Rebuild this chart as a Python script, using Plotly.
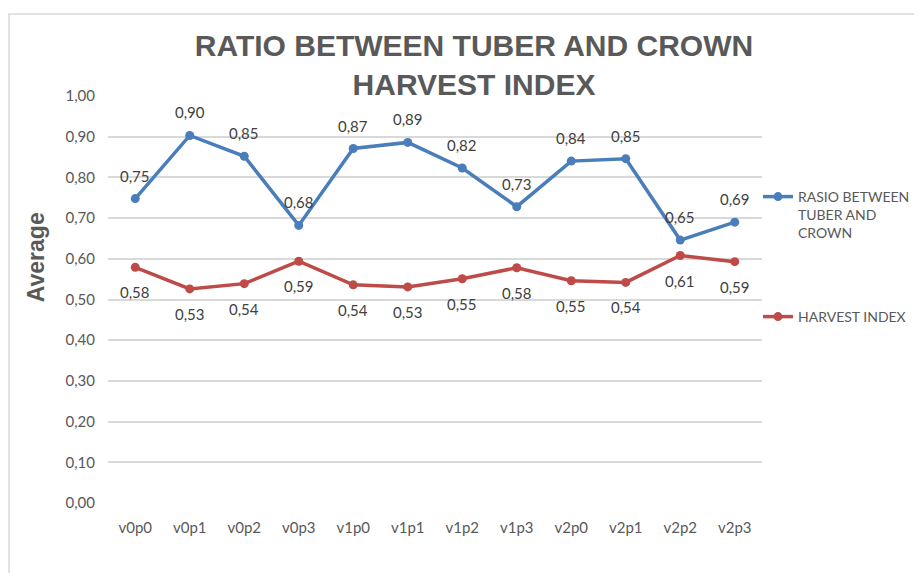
import plotly.graph_objects as go

categories = ["v0p0", "v0p1", "v0p2", "v0p3", "v1p0", "v1p1",
              "v1p2", "v1p3", "v2p0", "v2p1", "v2p2", "v2p3"]
ratio_values = [0.748, 0.903, 0.852, 0.682, 0.871, 0.886,
                0.823, 0.728, 0.840, 0.846, 0.646, 0.690]
harvest_values = [0.579, 0.526, 0.539, 0.594, 0.536, 0.531,
                  0.551, 0.578, 0.546, 0.542, 0.608, 0.593]
y_ticks = [0.0, 0.1, 0.2, 0.3, 0.4, 0.5, 0.6, 0.7, 0.8, 0.9, 1.0]
y_tick_labels = [f"{v:.2f}".replace(".", ",") for v in y_ticks]

BLUE = "#4A7EBB"
RED = "#BE4B48"
TEXT = "#595959"
GRID = "#D9D9D9"
FONT = "Lato, Calibri, Arial, sans-serif"

W, H = 914, 565  # page body adds an 8px margin

fig = go.Figure()
fig.add_trace(go.Scatter(
    x=categories, y=ratio_values, mode="lines+markers",
    name="RASIO BETWEEN<br>TUBER AND<br>CROWN",
    line=dict(color=BLUE, width=3.5), marker=dict(color=BLUE, size=9),
    legend="legend", cliponaxis=False, showlegend=True,
))
fig.add_trace(go.Scatter(
    x=categories, y=harvest_values, mode="lines+markers",
    name="HARVEST INDEX",
    line=dict(color=RED, width=3.5), marker=dict(color=RED, size=9),
    legend="legend2", cliponaxis=False, showlegend=True,
))

annotations = []
for c, v in zip(categories, ratio_values):
    annotations.append(dict(x=c, y=v, xref="x", yref="y", text=f"{v:.2f}".replace(".", ","),
                            showarrow=False, yshift=23, font=dict(size=15, color="#404040", family=FONT)))
for c, v in zip(categories, harvest_values):
    annotations.append(dict(x=c, y=v, xref="x", yref="y", text=f"{v:.2f}".replace(".", ","),
                            showarrow=False, yshift=-25, font=dict(size=15, color="#404040", family=FONT)))
annotations.append(dict(x=-0.110, y=0.604, xref="paper", yref="paper", text="<b>Average</b>",
                        textangle=-90, showarrow=False, xanchor="center", yanchor="middle",
                        font=dict(size=23, color=TEXT, family="Liberation Sans, Arial, sans-serif")))

fig.update_layout(
    width=W, height=H, showlegend=True,
    margin=dict(l=100, r=160, t=88, b=70, autoexpand=False),
    paper_bgcolor="white", plot_bgcolor="white",
    font=dict(family=FONT, color=TEXT, size=15),
    title=dict(text="<b>RATIO BETWEEN TUBER AND CROWN<br>HARVEST INDEX</b>",
               x=466 / W, xref="container", xanchor="center",
               y=1 - 48 / H, yref="container", yanchor="middle",
               font=dict(family="Liberation Sans, Arial, sans-serif", size=30, color=TEXT)),
    xaxis=dict(type="category", range=[-0.5, 11.5], showgrid=False, showline=False,
               zeroline=False, ticks="", tickfont=dict(size=15, color=TEXT), ticklabelstandoff=14),
    yaxis=dict(range=[0, 1], tickvals=y_ticks, ticktext=y_tick_labels, showgrid=True,
               gridcolor=GRID, gridwidth=1.5, zeroline=False, showline=False, ticks="",
               tickfont=dict(size=15, color=TEXT), ticklabelstandoff=12),
    legend=dict(x=750 / W, y=1 - 173 / H, xref="container", yref="container",
                xanchor="left", yanchor="top", valign="top", bgcolor="rgba(0,0,0,0)",
                font=dict(size=14, color=TEXT, family=FONT)),
    legend2=dict(x=750 / W, y=1 - 293 / H, xref="container", yref="container",
                 xanchor="left", yanchor="top", valign="top", bgcolor="rgba(0,0,0,0)",
                 font=dict(size=14, color=TEXT, family=FONT)),
    annotations=annotations,
    shapes=[dict(type="rect", xref="paper", yref="paper", x0=-0.1514, x1=1.4,
                 y0=-0.4, y1=1.2015, line=dict(color=GRID, width=1.5), layer="below")],
)

fig.write_html("out.html")
